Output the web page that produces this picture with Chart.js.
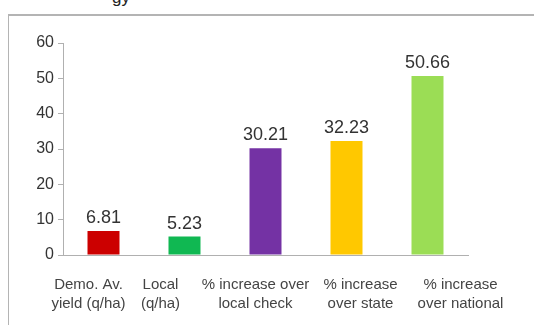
<!DOCTYPE html>
<html>
<head>
<meta charset="utf-8">
<script src="https://cdn.jsdelivr.net/npm/chart.js@4"></script>
<style>
  html, body { margin: 0; padding: 0; background: #fff; }
  #wrap { position: relative; width: 534px; height: 325px; overflow: hidden; }
  #frame { position: absolute; left: 8px; top: 14px; width: 540px; height: 330px;
           border-left: 1px solid #b4b4b4; border-top: 2px solid #b4b4b4; box-sizing: border-box; }
  #cut { position: absolute; left: 112px; top: -12px; font: 17px "Liberation Sans", Arial, sans-serif; color: #222; }
  canvas { position: absolute; left: 0; top: 0; }
</style>
</head>
<body>
<div id="wrap">
  <div id="cut">gy</div>
  <div id="frame"></div>
  <canvas id="barChart" width="534" height="325"></canvas>
</div>
<script>
// categories and values
var categories = [
  ['Demo. Av.', 'yield (q/ha)'],
  ['Local', '(q/ha)'],
  ['% increase over', 'local check'],
  ['% increase', 'over state'],
  ['% increase', 'over national']
];
var values = [6.81, 5.23, 30.21, 32.23, 50.66];
var valueLabels = ['6.81', '5.23', '30.21', '32.23', '50.66'];
var barColors = ['#cc0000', '#10b852', '#7432a4', '#ffc800', '#9bdd55'];
var yTicks = [0, 10, 20, 30, 40, 50, 60];

// the category row in the original sits a bit off the bar centres
var labelShift = [-15, -24, -10, 14, 33];

// value labels on top of bars
var valueLabelPlugin = {
  id: 'valueLabels',
  afterDatasetsDraw: function(chart) {
    var ctx = chart.ctx;
    var meta = chart.getDatasetMeta(0);
    ctx.save();
    ctx.font = '18px "Liberation Sans", Arial, sans-serif';
    ctx.fillStyle = '#333';
    ctx.textAlign = 'center';
    ctx.textBaseline = 'alphabetic';
    meta.data.forEach(function(bar, i) {
      ctx.fillText(valueLabels[i], bar.x, bar.y - 8);
    });
    ctx.restore();
  }
};

// category labels under the x axis
var categoryLabelPlugin = {
  id: 'categoryLabels',
  afterDraw: function(chart) {
    var ctx = chart.ctx;
    var xScale = chart.scales.x;
    var y0 = chart.chartArea.bottom;
    ctx.save();
    ctx.font = '15px "Liberation Sans", Arial, sans-serif';
    ctx.fillStyle = '#444';
    ctx.textAlign = 'center';
    ctx.textBaseline = 'middle';
    categories.forEach(function(lines, i) {
      var x = xScale.getPixelForValue(i) + labelShift[i];
      lines.forEach(function(line, j) {
        ctx.fillText(line, x, y0 + 30 + j * 19);
      });
    });
    ctx.restore();
  }
};

var ctx = document.getElementById('barChart');
var barChart = new Chart(ctx, {
  type: 'bar',
  data: {
    labels: categories,
    datasets: [{
      data: values,
      backgroundColor: barColors,
      borderWidth: 0,
      categoryPercentage: 1,
      barPercentage: 0.395
    }]
  },
  options: {
    responsive: false,
    animation: false,
    layout: { padding: { left: 0, top: 43, right: 66, bottom: 0 } },
    plugins: { legend: { display: false }, tooltip: { enabled: false } },
    scales: {
      x: {
        grid: { display: false, drawTicks: false },
        border: { display: true, color: '#b0b0b0', width: 1 },
        ticks: { display: false },
        afterFit: function(s) { s.height = 70; }
      },
      y: {
        min: 0,
        max: 60,
        afterBuildTicks: function(s) { s.ticks = yTicks.map(function(v) { return { value: v }; }); },
        grid: { drawOnChartArea: false, drawTicks: true, tickLength: 5, color: '#b0b0b0' },
        border: { display: true, color: '#b0b0b0', width: 1 },
        ticks: {
          color: '#333',
          padding: 4,
          font: { family: '"Liberation Sans", Arial, sans-serif', size: 16 }
        },
        afterFit: function(s) { s.width = 63; }
      }
    }
  },
  plugins: [valueLabelPlugin, categoryLabelPlugin]
});
</script>
</body>
</html>
